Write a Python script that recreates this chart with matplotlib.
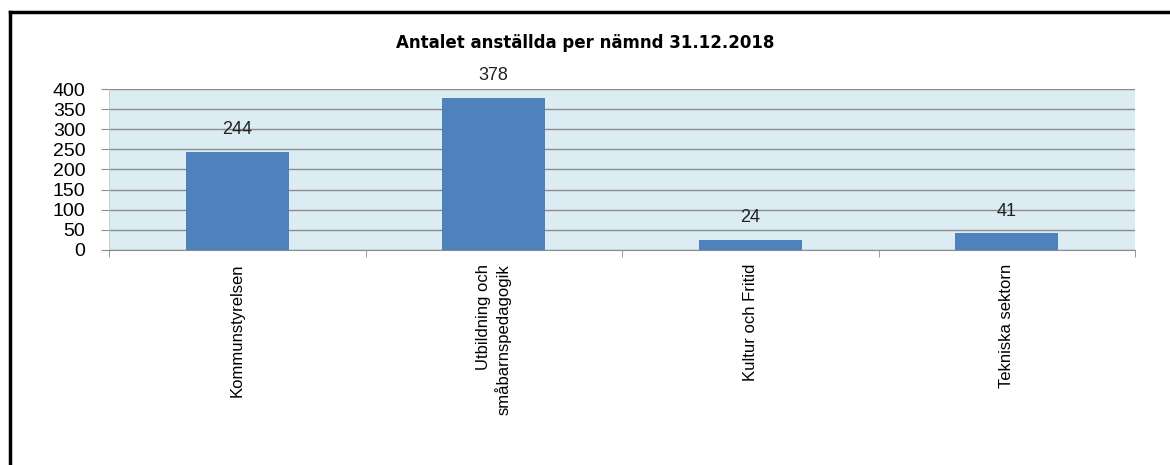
import matplotlib.pyplot as plt
from matplotlib.lines import Line2D

kategorier = ['Kommunstyrelsen', 'Utbildning och\nsmåbarnspedagogik',
              'Kultur och Fritid', 'Tekniska sektorn']
antal = [244, 378, 24, 41]
yticks = [0, 50, 100, 150, 200, 250, 300, 350, 400]

plt.rcParams['font.family'] = ['Liberation Sans', 'DejaVu Sans']

fig = plt.figure(figsize=(11.7, 4.65), dpi=100)
ax = fig.add_axes([109 / 1170, 1 - 250 / 465, (1135 - 109) / 1170, (250 - 89) / 465])

# ram runt diagrammet (bara topp och vänster syns)
kant_x = 10 / 1170
kant_y = 1 - 12 / 465
fig.add_artist(Line2D([kant_x, 1.0], [kant_y, kant_y], transform=fig.transFigure,
                      color='black', linewidth=2.5))
fig.add_artist(Line2D([kant_x, kant_x], [0.0, kant_y], transform=fig.transFigure,
                      color='black', linewidth=2.5))

x = list(range(len(kategorier)))
ax.set_facecolor('#dbedf3')
ax.bar(x, antal, width=0.4, color='#4f81bd', zorder=3)
for xi, v in zip(x, antal):
    ax.annotate(str(v), (xi, v), xytext=(0, 10), textcoords='offset points',
                ha='center', va='bottom', fontsize=13, color='#222222')

ax.set_xlim(-0.5, len(kategorier) - 0.5)
ax.set_ylim(0, 400)
ax.set_yticks(yticks)
ax.set_yticklabels([str(t) for t in yticks], fontsize=14)
ax.yaxis.grid(True, color='#8c8c8c', linewidth=1.0, zorder=1)
ax.set_axisbelow(True)

ax.set_xticks(x)
ax.set_xticklabels(kategorier, rotation=90, fontsize=12, va='top',
                   multialignment='right')
ax.set_xticks([i + 0.5 for i in range(-1, len(kategorier))], minor=True)
ax.tick_params(axis='x', which='major', length=0, pad=10)
ax.tick_params(axis='x', which='minor', length=5, color='#8c8c8c')
ax.tick_params(axis='y', length=6, color='#8c8c8c', pad=11)

for s in ['top', 'right']:
    ax.spines[s].set_visible(False)
ax.spines['bottom'].set_color('#8c8c8c')
ax.spines['left'].set_color('#c8c8c8')
ax.spines['left'].set_linewidth(0.6)

fig.text(585 / 1170, 1 - 43 / 465, 'Antalet anställda per nämnd 31.12.2018',
         ha='center', va='center', fontsize=12, fontweight='bold',
         family=['DejaVu Sans'])

fig.savefig('out.png', dpi=100)
